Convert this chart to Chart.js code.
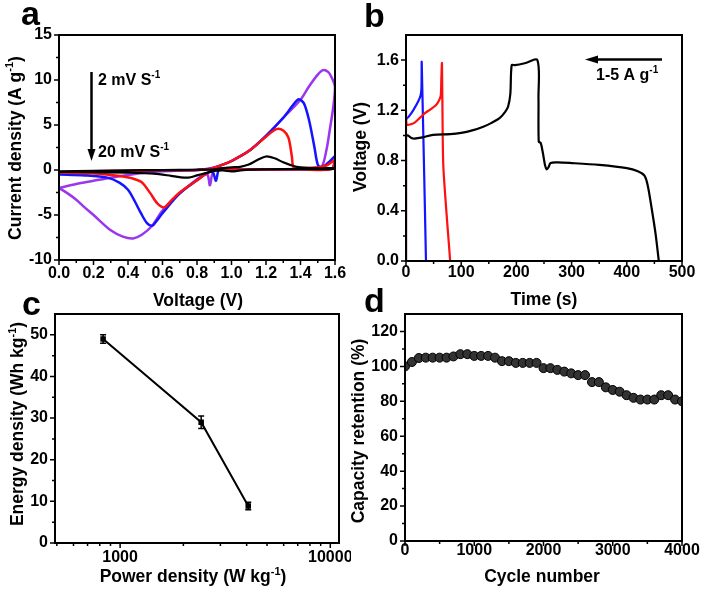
<!DOCTYPE html>
<html>
<head>
<meta charset="utf-8">
<script src="https://cdn.jsdelivr.net/npm/chart.js@4.4.0/dist/chart.umd.min.js"></script>
<style>
body { margin: 0; background: #fff; }
#main { position: relative; width: 702px; height: 590px; overflow: hidden; }
canvas { position: absolute; }
</style>
</head>
<body>
<div id="main">
<canvas id="ca" width="351" height="312" style="left:0;top:0"></canvas>
<canvas id="cb" width="351" height="312" style="left:351px;top:0"></canvas>
<canvas id="cc" width="351" height="315" style="left:0;top:275px"></canvas>
<canvas id="cd" width="351" height="315" style="left:351px;top:275px"></canvas>
</div>
<script>
// ---- panel a: CV loops (voltage V, current density A/g) ----
const aBlackV = [0, 0.2, 0.4, 0.6, 0.8, 0.9, 0.95, 1.0, 1.05, 1.1, 1.15, 1.2, 1.25, 1.3, 1.35, 1.4, 1.5, 1.6, 1.6, 1.4, 1.2, 1.1, 1.05, 1.0, 0.95, 0.9, 0.85, 0.8, 0.75, 0.7, 0.65, 0.55, 0.4, 0.2, 0]
const aBlackI = [-0.15, -0.1, -0.05, 0, 0.03, 0.08, 0.2, 0.3, 0.35, 0.6, 1.1, 1.5, 1.3, 0.85, 0.5, 0.3, 0.2, 0.2, 0.12, 0.1, 0.08, 0.05, -0.05, -0.15, -0.05, -0.1, -0.35, -0.6, -0.85, -0.8, -0.65, -0.4, -0.3, -0.25, -0.2]
const aRedV = [0, 0.2, 0.4, 0.6, 0.8, 0.88, 0.95, 1.0, 1.1, 1.2, 1.26, 1.3, 1.33, 1.35, 1.36, 1.4, 1.5, 1.55, 1.6, 1.58, 1.4, 1.2, 1.0, 0.92, 0.88, 0.85, 0.8, 0.7, 0.65, 0.61, 0.57, 0.53, 0.5, 0.475, 0.42, 0.38, 0.3, 0.19, 0]
const aRedI = [-0.25, -0.15, -0.08, -0.03, 0, 0.15, 0.6, 1.0, 2.1, 3.7, 4.55, 4.4, 3.6, 1.5, 0.3, 0.2, 0.3, 0.5, 1.1, 0.1, 0.08, 0.06, 0.05, 0.05, -0.15, -0.45, -1.15, -2.5, -3.4, -4.15, -3.7, -2.6, -1.8, -1.3, -0.9, -0.74, -0.55, -0.37, -0.28]
const aBlueV = [0, 0.2, 0.4, 0.6, 0.8, 0.88, 0.95, 1.0, 1.1, 1.2, 1.3, 1.36, 1.39, 1.42, 1.45, 1.48, 1.5, 1.52, 1.56, 1.6, 1.58, 1.4, 1.2, 1.0, 0.93, 0.91, 0.89, 0.85, 0.8, 0.7, 0.6, 0.56, 0.54, 0.51, 0.475, 0.44, 0.4, 0.35, 0.28, 0.15, 0]
const aBlueI = [-0.45, -0.3, -0.15, -0.07, 0, 0.15, 0.6, 1.0, 2.1, 3.8, 5.8, 7.3, 7.85, 7.4, 5.5, 2.6, 0.6, 0.3, 0.8, 1.5, 0.15, 0.1, 0.08, 0.05, 0.1, -1.2, -0.2, -0.45, -1.15, -2.6, -4.8, -5.8, -6.2, -5.9, -4.8, -3.5, -2.2, -1.4, -0.85, -0.6, -0.5]
const aPurpV = [0, 0.1, 0.2, 0.3, 0.4, 0.5, 0.6, 0.7, 0.8, 0.88, 0.95, 1.0, 1.1, 1.2, 1.3, 1.4, 1.45, 1.5, 1.53, 1.56, 1.58, 1.6, 1.59, 1.57, 1.55, 1.52, 1.45, 1.2, 1.0, 0.9, 0.875, 0.86, 0.82, 0.7, 0.6, 0.54, 0.48, 0.43, 0.37, 0.3, 0.2, 0.145, 0.1, 0.05, 0]
const aPurpI = [-2, -1.55, -1.2, -0.85, -0.55, -0.3, -0.15, -0.05, 0, 0.2, 0.6, 1.0, 2.1, 3.8, 5.8, 7.8, 9.3, 10.6, 11.1, 10.9, 10.3, 9.2, 7, 4.5, 2.2, 0.3, 0.12, 0.08, 0.05, 0.05, -1.7, -0.5, -0.75, -2.6, -4.5, -6.2, -7.2, -7.6, -7.4, -6.7, -5.0, -4.1, -3.3, -2.6, -2]

// ---- panel b: charge/discharge (time s, voltage V) ----
const bBlackT = [0, 0, 3, 10, 15, 30, 49, 80, 100, 120, 140, 155, 170, 180, 185, 189, 191.5, 197.5, 215, 238, 240, 240.5, 244, 248, 252, 255, 258, 262, 275, 300, 350, 400, 420, 432, 438, 445, 452, 458]
const bBlackV = [0, 0.99, 1.0, 0.98, 0.975, 0.985, 1.005, 1.01, 1.02, 1.04, 1.07, 1.1, 1.14, 1.19, 1.23, 1.33, 1.56, 1.56, 1.575, 1.6, 1.3, 0.95, 0.94, 0.86, 0.76, 0.73, 0.745, 0.78, 0.785, 0.78, 0.765, 0.74, 0.715, 0.68, 0.6, 0.42, 0.22, 0]
const bRedT = [0, 0, 1, 5, 15, 25, 35, 45, 55, 60, 63, 64, 65.2, 66.5, 68, 80]
const bRedV = [0, 1.2, 1.09, 1.085, 1.1, 1.14, 1.18, 1.21, 1.245, 1.28, 1.32, 1.45, 1.575, 1.0, 0.72, 0]
const bBlueT = [0, 5, 13, 22, 26.5, 28, 28.5, 36.2]
const bBlueV = [1.13, 1.15, 1.2, 1.27, 1.32, 1.38, 1.58, 0]

// ---- panel c: Ragone ----
const cPower = [830, 2430, 4070]
const cEnergy = [49, 29, 8.9]
const cErr = [1, 1.5, 0.9]

// ---- panel d: cycling ----
const dCycle = [0, 100, 200, 300, 400, 500, 600, 700, 800, 900, 1000, 1100, 1200, 1300, 1400, 1500, 1600, 1700, 1800, 1900, 2000, 2100, 2200, 2300, 2400, 2500, 2600, 2700, 2800, 2900, 3000, 3100, 3200, 3300, 3400, 3500, 3600, 3700, 3800, 3900, 4000]
const dRetention = [100, 102.5, 104.8, 105, 105, 105, 105, 105.7, 107, 107, 106, 106, 106, 105, 103, 103, 102, 102, 102, 102, 99, 99, 98, 97, 96, 95, 95, 91, 91, 88, 86.5, 85.5, 83.5, 82, 81, 81, 81, 83.5, 83.5, 81, 80]

// tick values
const aXMajor = [0, 0.2, 0.4, 0.6, 0.8, 1.0, 1.2, 1.4, 1.6]
const aXMinor = [0.1, 0.3, 0.5, 0.7, 0.9, 1.1, 1.3, 1.5]
const aYMajor = [-10, -5, 0, 5, 10, 15]
const aYMinor = [-7.5, -2.5, 2.5, 7.5, 12.5]
const bXMajor = [0, 100, 200, 300, 400, 500]
const bXMinor = [50, 150, 250, 350, 450]
const bYMajor = [0, 0.4, 0.8, 1.2, 1.6]
const bYMinor = [0.2, 0.6, 1.0, 1.4]
const cXMajor = [1000, 10000]
const cXMinor = [500, 600, 700, 800, 900, 2000, 3000, 4000, 5000, 6000, 7000, 8000, 9000]
const cYMajor = [0, 10, 20, 30, 40, 50]
const cYMinor = [5, 15, 25, 35, 45]
const dXMajor = [0, 1000, 2000, 3000, 4000]
const dXMinor = [500, 1500, 2500, 3500]
const dYMajor = [0, 20, 40, 60, 80, 100, 120]
const dYMinor = [10, 30, 50, 70, 90, 110]

const FONT = '"Liberation Sans", Arial, sans-serif'
Chart.defaults.font.family = FONT
Chart.defaults.font.size = 16
Chart.defaults.font.weight = 'bold'
Chart.defaults.color = '#000'
Chart.defaults.animation = false
Chart.defaults.plugins.legend.display = false
Chart.defaults.plugins.tooltip.enabled = false

function pts(xs, ys) {
	return xs.map((x, i) => ({x, y: ys[i]}))
}

function axis(type, min, max, majors, fmt, pad, size, isX) {
	return {
		type, min, max,
		grid: {display: false, drawTicks: false},
		border: {display: false},
		ticks: {padding: pad, autoSkip: false, maxRotation: 0, callback: v => fmt(v)},
		afterBuildTicks: s => { s.ticks = majors.map(v => ({value: v})) },
		afterFit: s => {
			if (isX) { s.height = size; s.paddingLeft = 0; s.paddingRight = 0 }
			else { s.width = size; s.paddingTop = 0; s.paddingBottom = 0 }
		}
	}
}

// text with superscript parts: [[text, isSup], ...]
function rich(ctx, parts, x, y, size, align, rot) {
	ctx.save()
	ctx.translate(x, y)
	if (rot) ctx.rotate(rot)
	ctx.fillStyle = '#000'
	ctx.textAlign = 'left'
	ctx.textBaseline = 'alphabetic'
	const fBase = `bold ${size}px ${FONT}`
	const fSup = `bold ${Math.round(size * 0.6)}px ${FONT}`
	const widths = parts.map(p => { ctx.font = p[1] ? fSup : fBase; return ctx.measureText(p[0]).width })
	const total = widths.reduce((s, w) => s + w, 0)
	let cx = align === 'center' ? -total / 2 : align === 'right' ? -total : 0
	parts.forEach((p, i) => {
		ctx.font = p[1] ? fSup : fBase
		ctx.fillText(p[0], cx, p[1] ? -size * 0.42 : 0)
		cx += widths[i]
	})
	ctx.restore()
}

function deco(spec) {
	return {
		id: 'deco',
		afterDraw(chart) {
			const ctx = chart.ctx, a = chart.chartArea
			const xs = chart.scales.x, ys = chart.scales.y
			const ox = spec.ox, oy = spec.oy
			ctx.save()
			ctx.strokeStyle = '#000'
			ctx.lineWidth = 1.5
			ctx.beginPath()
			xs.ticks.forEach(t => { const p = xs.getPixelForValue(t.value); ctx.moveTo(p, a.bottom); ctx.lineTo(p, a.bottom + 5) })
			spec.xMinor.forEach(v => { const p = xs.getPixelForValue(v); ctx.moveTo(p, a.bottom); ctx.lineTo(p, a.bottom + 3) })
			ys.ticks.forEach(t => { const p = ys.getPixelForValue(t.value); ctx.moveTo(a.left, p); ctx.lineTo(a.left - 5, p) })
			spec.yMinor.forEach(v => { const p = ys.getPixelForValue(v); ctx.moveTo(a.left, p); ctx.lineTo(a.left - 3, p) })
			ctx.stroke()
			ctx.lineWidth = 2
			ctx.strokeRect(a.left, a.top, a.right - a.left, a.bottom - a.top)
			ctx.restore()

			rich(ctx, [[spec.letter[0], 0]], spec.letter[1] - ox, spec.letter[2] - oy, 34, 'left')
			rich(ctx, spec.xTitle[0], spec.xTitle[1] - ox, spec.xTitle[2] - oy, 17.5, 'center')
			rich(ctx, spec.yTitle[0], spec.yTitle[1] - ox, spec.yTitle[2] - oy, 17.5, 'center', -Math.PI / 2)
			if (spec.extra) spec.extra(ctx, chart, ox, oy)
		}
	}
}

function arrow(ctx, x1, y1, x2, y2, hl, hw) {
	const ang = Math.atan2(y2 - y1, x2 - x1)
	ctx.save()
	ctx.strokeStyle = '#000'
	ctx.fillStyle = '#000'
	ctx.lineWidth = 2.5
	ctx.beginPath()
	ctx.moveTo(x1, y1)
	ctx.lineTo(x2 - hl * Math.cos(ang), y2 - hl * Math.sin(ang))
	ctx.stroke()
	ctx.translate(x2, y2)
	ctx.rotate(ang)
	ctx.beginPath()
	ctx.moveTo(0, 0)
	ctx.lineTo(-hl, -hw / 2)
	ctx.lineTo(-hl, hw / 2)
	ctx.closePath()
	ctx.fill()
	ctx.restore()
}

const SUP = '-1'
const lineDs = (data, color, w) => ({data, borderColor: color, borderWidth: w, pointRadius: 0, tension: 0.3, fill: false})

// panel a
new Chart(document.getElementById('ca'), {
	type: 'line',
	data: {datasets: [
		lineDs(pts(aBlackV, aBlackI), '#000000', 2.2),
		lineDs(pts(aRedV, aRedI), '#ff1010', 2.5),
		lineDs(pts(aBlueV, aBlueI), '#1414ff', 2.5),
		lineDs(pts(aPurpV, aPurpI), '#9b35ee', 2.5)
	]},
	options: {
		responsive: false,
		layout: {padding: {top: 35, right: 16, left: 0, bottom: 0}},
		scales: {
			x: axis('linear', 0, 1.6, aXMajor, v => v.toFixed(1), 4, 52, true),
			y: axis('linear', -10, 15, aYMajor, v => String(v), 7, 59, false)
		}
	},
	plugins: [deco({
		ox: 0, oy: 0, xMinor: aXMinor, yMinor: aYMinor,
		letter: ['a', 21, 25],
		xTitle: [[['Voltage (V)', 0]], 198, 306],
		yTitle: [[['Current density (A g', 0], [SUP, 1], [')', 0]], 20.5, 148],
		extra(ctx) {
			arrow(ctx, 91.5, 72, 91.5, 161, 12, 8)
			rich(ctx, [['2 mV S', 0], [SUP, 1]], 98, 85, 16, 'left')
			rich(ctx, [['20 mV S', 0], [SUP, 1]], 98, 157, 16, 'left')
		}
	})]
})

// panel b
new Chart(document.getElementById('cb'), {
	type: 'line',
	data: {datasets: [
		lineDs(pts(bBlackT, bBlackV), '#000000', 2.2),
		lineDs(pts(bRedT, bRedV), '#ff1010', 2.2),
		lineDs(pts(bBlueT, bBlueV), '#1414ff', 2.2)
	]},
	options: {
		responsive: false,
		layout: {padding: {top: 35, right: 20, left: 0, bottom: 0}},
		elements: {line: {tension: 0.15}},
		scales: {
			x: axis('linear', 0, 500, bXMajor, v => String(v), 2, 51, true),
			y: axis('linear', 0, 1.8, bYMajor, v => v.toFixed(1), 7, 55, false)
		}
	},
	plugins: [deco({
		ox: 351, oy: 0, xMinor: bXMinor, yMinor: bYMinor,
		letter: ['b', 364, 27],
		xTitle: [[['Time (s)', 0]], 544, 305],
		yTitle: [[['Voltage (V)', 0]], 366, 147],
		extra(ctx, chart, ox, oy) {
			arrow(ctx, 662 - ox, 59.5 - oy, 585 - ox, 59.5 - oy, 13, 8)
			rich(ctx, [['1-5 A g', 0], [SUP, 1]], 596 - ox, 80 - oy, 16, 'left')
		}
	})]
})

// panel c
new Chart(document.getElementById('cc'), {
	type: 'line',
	data: {datasets: [{
		data: pts(cPower, cEnergy),
		borderColor: '#000', borderWidth: 2, tension: 0,
		pointStyle: 'rect', pointRadius: 2.5, pointBackgroundColor: '#000', pointBorderColor: '#000'
	}]},
	options: {
		responsive: false,
		layout: {padding: {top: 39, right: 12, left: 0, bottom: 0}},
		scales: {
			x: axis('logarithmic', 490, 11000, cXMajor, v => String(v), 5, 47, true),
			y: axis('linear', 0, 55, cYMajor, v => String(v), 7, 55, false)
		}
	},
	plugins: [deco({
		ox: 0, oy: 275, xMinor: cXMinor, yMinor: cYMinor,
		letter: ['c', 22, 315],
		xTitle: [[['Power density (W kg', 0], [SUP, 1], [')', 0]], 193, 582],
		yTitle: [[['Energy density (Wh kg', 0], [SUP, 1], [')', 0]], 23, 424],
		extra(ctx, chart) {
			const xs = chart.scales.x, ys = chart.scales.y
			ctx.save()
			ctx.strokeStyle = '#000'
			ctx.lineWidth = 1.5
			ctx.beginPath()
			cPower.forEach((p, i) => {
				const x = xs.getPixelForValue(p)
				const y1 = ys.getPixelForValue(cEnergy[i] - cErr[i])
				const y2 = ys.getPixelForValue(cEnergy[i] + cErr[i])
				ctx.moveTo(x, y1); ctx.lineTo(x, y2)
				ctx.moveTo(x - 3, y1); ctx.lineTo(x + 3, y1)
				ctx.moveTo(x - 3, y2); ctx.lineTo(x + 3, y2)
			})
			ctx.stroke()
			ctx.restore()
		}
	})]
})

// panel d
new Chart(document.getElementById('cd'), {
	type: 'line',
	data: {datasets: [{
		data: pts(dCycle, dRetention),
		showLine: false,
		pointRadius: 4.5, pointBackgroundColor: '#333', pointBorderColor: '#000', pointBorderWidth: 1
	}]},
	options: {
		responsive: false,
		layout: {padding: {top: 39, right: 20, left: 0, bottom: 0}},
		scales: {
			x: axis('linear', 0, 4000, dXMajor, v => String(v), 0, 49, true),
			y: axis('linear', 0, 130, dYMajor, v => String(v), 7, 54, false)
		}
	},
	plugins: [deco({
		ox: 351, oy: 275, xMinor: dXMinor, yMinor: dYMinor,
		letter: ['d', 364, 312],
		xTitle: [[['Cycle number', 0]], 542, 582],
		yTitle: [[['Capacity retention (%)', 0]], 364, 431]
	})]
})
</script>
</body>
</html>
